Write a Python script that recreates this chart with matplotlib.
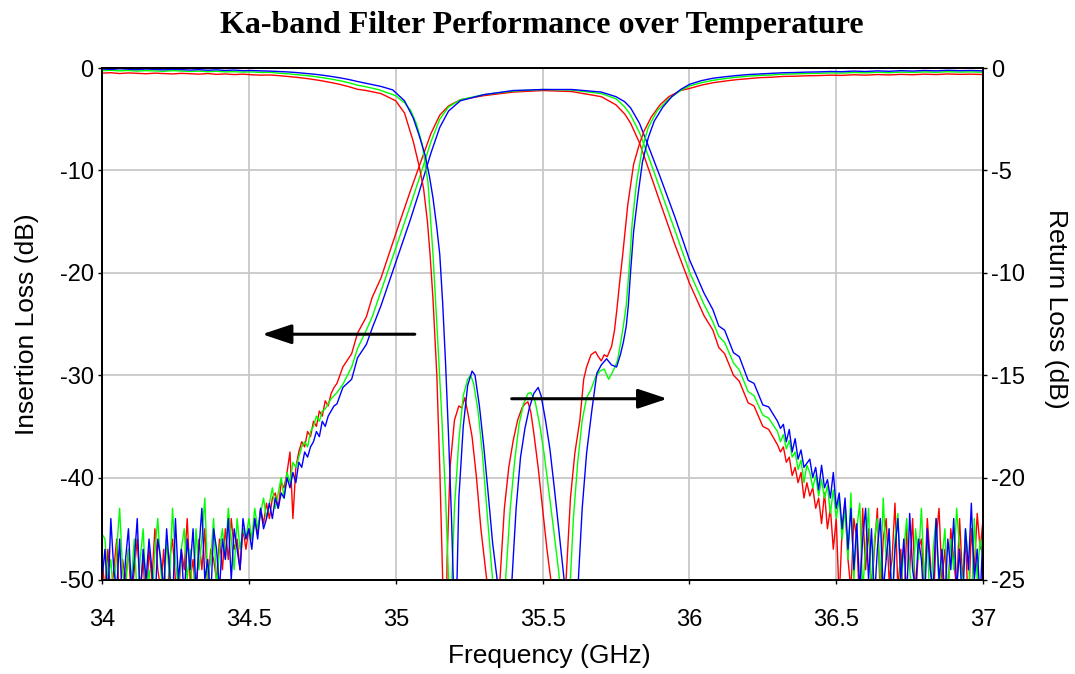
import numpy as np
import matplotlib
matplotlib.use("Agg")
import matplotlib.pyplot as plt

plt.rcParams['font.family'] = ['Liberation Sans', 'DejaVu Sans']
plt.rcParams['axes.unicode_minus'] = False

# ---------------- Insertion loss (left axis) ----------------
# noisy floor + lower skirt, 34.00 .. 34.79 GHz every 10 MHz
f_il_lo = np.round(np.arange(34.00, 34.795, 0.01), 3)
il_lo_red = [-48, -51, -47, -52, -49, -46, -53, -48, -50, -47,
             -52, -49, -46, -51, -48, -53, -47, -50, -45, -49,
             -51, -47, -53, -48, -46, -50, -52, -47, -49, -44,
             -50, -48, -52, -46, -49, -45, -51, -47, -48, -50,
             -46, -49, -45, -48, -44, -47, -46, -49, -45, -47,
             -45, -46, -44, -45.5, -43, -44.5, -42.5, -44, -42, -41.5,
             -43, -40.5, -41, -39.5, -37.5, -44, -39, -37.5, -36.5, -37,
             -35.5, -36, -34.5, -35, -33.5, -34, -32.5, -33, -31.8, -31.2]
il_lo_green = [-45.5, -46, -50, -48, -52, -47, -43, -49, -51, -47,
               -50, -46, -52, -48, -45, -51, -49, -53, -47, -44,
               -49, -52, -46, -50, -43, -48, -51, -47, -45, -50,
               -47, -53, -45, -49, -46, -42, -50, -48, -44, -51,
               -47, -45, -48, -43, -46, -49, -44, -47, -45, -46,
               -44, -46, -43, -45, -43.5, -42, -44, -42.5, -41, -43,
               -41.5, -40, -42, -39.5, -40.5, -38.5, -39, -38, -37, -36.5,
               -37, -35.5, -35, -34, -34.5, -33.5, -33.3, -32.8, -32.3, -32]
il_lo_blue = [-50, -47, -52, -44, -49, -51, -46, -53, -48, -45,
              -51, -48, -44, -52, -47, -50, -46, -49, -53, -46,
              -48, -51, -45, -49, -53, -44, -50, -47, -52, -46,
              -49, -45, -51, -47, -43, -50, -48, -52, -45, -47,
              -51, -46, -48, -44, -50, -45, -47, -49, -44, -46,
              -45, -47, -44, -46, -43, -45, -44, -42.5, -44, -42,
              -43, -41.5, -42, -40, -41, -39.5, -40.5, -38.5, -39, -37.5,
              -38, -37, -36.5, -35.5, -36, -34.5, -35, -34, -33.5, -33]

# passband region
f_il_mid = [34.80, 34.82, 34.85, 34.87, 34.90, 34.92, 34.95, 35.00, 35.05, 35.08,
            35.10, 35.12, 35.15, 35.18, 35.22, 35.30, 35.40, 35.50, 35.60, 35.70,
            35.75, 35.78, 35.80, 35.83, 35.86, 35.90, 35.95, 36.00, 36.05, 36.08,
            36.10, 36.12, 36.15, 36.17, 36.20, 36.22, 36.25, 36.27]
il_mid_red = [-30.8, -29.2, -27.9, -25.9, -24.3, -22.4, -20.5, -16.2, -12.0, -9.6,
              -8.0, -6.4, -4.6, -3.7, -3.1, -2.7, -2.35, -2.2, -2.3, -2.8,
              -3.6, -4.5, -5.4, -7.3, -9.8, -13.1, -17.2, -21.0, -24.2, -25.6,
              -27.3, -27.9, -30.0, -30.6, -32.7, -33.0, -35.0, -35.3]
il_mid_green = [-31.7, -30.9, -29.2, -27.4, -25.6, -24.3, -21.8, -17.6, -13.4, -10.8,
                -9.0, -7.2, -5.0, -3.8, -3.1, -2.6, -2.25, -2.1, -2.15, -2.5,
                -3.0, -3.8, -4.6, -6.3, -8.6, -11.8, -15.8, -19.9, -23.1, -24.8,
                -26.2, -26.8, -28.8, -29.5, -31.6, -32.0, -33.9, -34.2]
il_mid_blue = [-32.8, -31.2, -30.4, -28.3, -27.0, -25.4, -23.2, -19.0, -14.8, -12.1,
               -10.2, -8.3, -5.8, -4.2, -3.2, -2.6, -2.2, -2.1, -2.1, -2.35,
               -2.8, -3.3, -3.9, -5.4, -7.6, -10.6, -14.5, -18.7, -22.0, -23.6,
               -25.2, -25.6, -27.8, -28.2, -30.5, -30.8, -32.9, -33.1]

# upper skirt + noisy floor, 36.30 .. 37.00 GHz
f_il_hi = np.round(np.arange(36.30, 37.005, 0.01), 3)
il_hi_red = [-36.8, -37.5, -37, -38.5, -38, -39.8, -39, -40.5, -39.5, -42,
             -40.5, -41.8, -41, -43, -42, -44.5, -41.5, -45, -43, -47,
             -44, -52, -45, -42.5, -48, -51, -44, -46, -53, -43,
             -49, -45, -51, -47, -43, -52, -46, -44, -50, -48,
             -42.5, -51, -47, -53, -45, -49, -44, -52, -47, -46,
             -51, -44, -48, -53, -46, -43, -50, -47, -52, -45,
             -48, -51, -44, -50, -46, -53, -45, -49, -43.5, -47, -44]
il_hi_green = [-35.5, -36.5, -35.8, -37.2, -36.4, -38, -37.5, -39.2, -38.3, -40.5,
               -38.8, -39.5, -41, -39.8, -41.8, -40.2, -42, -40.8, -43.5, -41.2,
               -44, -42, -46, -43, -48, -41.5, -50, -45, -42.5, -51,
               -47, -43, -52, -46, -44, -50, -42, -48, -45, -53,
               -46, -43.5, -51, -47, -44, -49, -52, -45, -48, -43,
               -50, -46, -53, -47, -44, -51, -48, -45, -52, -46,
               -49, -43, -47, -51, -45, -48, -53, -44, -50, -46, -48]
il_hi_blue = [-34.5, -35.2, -34.8, -36.5, -35.3, -37.5, -36.2, -38.2, -37.3, -39,
              -38.6, -38.2, -40, -39, -41.2, -38.8, -41, -40.2, -42, -39.5,
              -43, -41.5, -45, -42, -47, -43, -49, -44.5, -51, -46,
              -43, -50, -45, -52, -47, -44, -51, -48, -45, -53,
              -47, -44, -50, -46, -52, -43.5, -49, -51, -46, -48,
              -53, -45, -49, -51, -44, -50, -47, -52, -46, -49,
              -44, -51, -47, -53, -45, -49, -42.5, -50, -47, -52, -45]

# ---------------- Return loss (right axis) ----------------
f_rl_lo = np.round(np.arange(34.00, 34.885, 0.03), 3)
rl_lo_red = [-0.25, -0.23, -0.27, -0.24, -0.26, -0.28, -0.25, -0.27, -0.29, -0.26,
             -0.28, -0.30, -0.27, -0.31, -0.29, -0.32, -0.30, -0.33, -0.35, -0.34,
             -0.37, -0.41, -0.45, -0.50, -0.56, -0.63, -0.71, -0.80, -0.91, -1.04]
rl_lo_green = [-0.13, -0.11, -0.14, -0.12, -0.15, -0.13, -0.14, -0.16, -0.13, -0.15,
               -0.17, -0.15, -0.18, -0.16, -0.19, -0.18, -0.20, -0.19, -0.22, -0.21,
               -0.25, -0.28, -0.32, -0.36, -0.41, -0.47, -0.54, -0.62, -0.72, -0.84]
rl_lo_blue = [-0.05, -0.07, -0.04, -0.06, -0.08, -0.05, -0.07, -0.09, -0.06, -0.08,
              -0.10, -0.08, -0.11, -0.09, -0.12, -0.10, -0.13, -0.12, -0.14, -0.15,
              -0.17, -0.19, -0.22, -0.26, -0.30, -0.35, -0.41, -0.48, -0.56, -0.66]

f_rl_red = [34.90, 34.95, 35.00, 35.03, 35.06, 35.08, 35.095, 35.108, 35.117, 35.127,
            35.14, 35.15, 35.16, 35.167, 35.175, 35.185, 35.20, 35.215, 35.225, 35.235,
            35.245, 35.26, 35.275, 35.29, 35.31, 35.333, 35.355, 35.37, 35.385, 35.40,
            35.415, 35.43, 35.44, 35.45, 35.46, 35.47, 35.485, 35.50, 35.515, 35.53,
            35.555, 35.58, 35.595, 35.61, 35.627, 35.64, 35.65, 35.665, 35.68, 35.69,
            35.70, 35.71, 35.72, 35.735, 35.745, 35.753, 35.763, 35.773, 35.79, 35.81,
            35.83, 35.845, 35.87, 35.90, 35.93, 35.97]
rl_red = [-1.1, -1.25, -1.6, -2.2, -3.6, -4.8, -5.9, -7.5, -9.1, -11.3,
          -15.0, -19.5, -25.0, -33.0, -24.0, -19.5, -17.2, -16.5, -16.6, -16.1,
          -16.8, -18.0, -20.0, -22.5, -25.0, -33.0, -25.0, -21.5, -19.5, -18.2,
          -17.2, -16.6, -16.4, -16.3, -16.8, -17.8, -19.5, -21.5, -23.5, -25.2,
          -33.0, -25.0, -21.0, -18.8, -17.2, -15.2, -14.6, -14.0, -13.85, -14.1,
          -14.3, -14.0, -14.1, -13.6, -12.8, -11.8, -10.4, -9.1, -6.7, -4.7,
          -3.7, -3.1, -2.4, -1.8, -1.4, -1.1]

f_rl_green = [34.90, 34.94, 34.97, 35.00, 35.03, 35.05, 35.07, 35.09, 35.11, 35.127,
              35.14, 35.155, 35.17, 35.18, 35.185, 35.19, 35.20, 35.215, 35.23, 35.245,
              35.255, 35.265, 35.28, 35.295, 35.31, 35.33, 35.352, 35.375, 35.39, 35.405,
              35.42, 35.435, 35.45, 35.46, 35.475, 35.49, 35.505, 35.52, 35.54, 35.555,
              35.57, 35.582, 35.593, 35.605, 35.62, 35.635, 35.65, 35.665, 35.68, 35.695,
              35.71, 35.725, 35.74, 35.755, 35.765, 35.775, 35.785, 35.795, 35.805, 35.82,
              35.84, 35.86, 35.89, 35.93, 35.97]
rl_green = [-0.92, -1.05, -1.2, -1.35, -1.7, -2.05, -2.7, -3.7, -5.6, -9.1,
            -12.5, -16.5, -21.0, -25.0, -33.0, -25.5, -21.5, -18.2, -16.0, -15.2,
            -15.0, -15.4, -16.7, -18.8, -21.5, -25.0, -33.0, -24.8, -21.5, -19.2,
            -17.4, -16.4, -15.9, -15.85, -16.3, -17.4, -18.8, -20.5, -22.8, -24.6,
            -27.0, -33.0, -25.5, -22.0, -19.2, -17.2, -16.1, -15.7, -15.1, -14.8,
            -14.7, -15.2, -14.8, -14.3, -13.5, -12.6, -11.6, -9.8, -7.6, -5.6,
            -3.9, -2.9, -2.1, -1.5, -1.1]

f_rl_blue = [34.90, 34.95, 34.99, 35.03, 35.06, 35.08, 35.10, 35.115, 35.127, 35.14,
             35.15, 35.16, 35.17, 35.18, 35.19, 35.197, 35.202, 35.208, 35.215, 35.23,
             35.245, 35.26, 35.27, 35.285, 35.30, 35.315, 35.33, 35.35, 35.372, 35.395,
             35.41, 35.425, 35.44, 35.455, 35.47, 35.485, 35.495, 35.51, 35.525, 35.54,
             35.555, 35.575, 35.598, 35.62, 35.635, 35.65, 35.668, 35.685, 35.70, 35.718,
             35.735, 35.752, 35.765, 35.775, 35.785, 35.792, 35.80, 35.81, 35.825, 35.84,
             35.86, 35.88, 35.91, 35.94, 35.97]
rl_blue = [-0.75, -0.9, -1.07, -1.6, -2.45, -3.3, -4.25, -5.3, -6.35, -7.8,
           -9.1, -11.5, -14.5, -18.0, -22.0, -25.5, -33.0, -25.5, -21.0, -17.5,
           -15.5, -14.8, -15.0, -16.5, -18.5, -20.8, -23.2, -25.5, -33.0, -25.2,
           -21.5, -19.0, -17.6, -16.6, -15.9, -15.6, -16.0, -17.2, -18.6, -20.5,
           -22.5, -25.2, -33.0, -25.5, -21.5, -18.8, -16.7, -14.9, -14.5, -14.2,
           -14.5, -14.6, -14.0, -13.4, -12.6, -11.6, -9.9, -8.0, -6.2, -4.6,
           -3.4, -2.6, -1.9, -1.4, -1.05]

f_rl_hi = np.round(np.arange(36.00, 37.005, 0.04), 3)
rl_hi_red = [-1.0, -0.84, -0.72, -0.64, -0.57, -0.52, -0.47, -0.45, -0.41, -0.40,
             -0.38, -0.37, -0.35, -0.36, -0.33, -0.35, -0.32, -0.34, -0.31, -0.33,
             -0.30, -0.32, -0.29, -0.31, -0.30, -0.32]
rl_hi_green = [-0.88, -0.72, -0.60, -0.52, -0.45, -0.40, -0.36, -0.34, -0.30, -0.29,
               -0.27, -0.26, -0.24, -0.25, -0.22, -0.24, -0.21, -0.23, -0.20, -0.22,
               -0.19, -0.21, -0.18, -0.20, -0.19, -0.21]
rl_hi_blue = [-0.80, -0.62, -0.50, -0.43, -0.37, -0.32, -0.29, -0.26, -0.23, -0.22,
              -0.20, -0.19, -0.17, -0.18, -0.15, -0.17, -0.14, -0.16, -0.13, -0.15,
              -0.12, -0.14, -0.11, -0.13, -0.12, -0.14]

colors = ['#ff0000', '#00ff00', '#0000ff']

il_sets = [(il_lo_red, il_mid_red, il_hi_red),
           (il_lo_green, il_mid_green, il_hi_green),
           (il_lo_blue, il_mid_blue, il_hi_blue)]
rl_sets = [(rl_lo_red, f_rl_red, rl_red, rl_hi_red),
           (rl_lo_green, f_rl_green, rl_green, rl_hi_green),
           (rl_lo_blue, f_rl_blue, rl_blue, rl_hi_blue)]

fig = plt.figure(figsize=(10.75, 6.74), dpi=100)
ax = fig.add_axes([0.0949, 0.1395, 0.8196, 0.7596])
ax2 = ax.twinx()

for (lo, mid, hi), c in zip(il_sets, colors):
    f = np.concatenate([f_il_lo, f_il_mid, f_il_hi])
    y = np.concatenate([lo, mid, hi])
    ax.plot(f, y, color=c, lw=1.0)

for (lo, fb, band, hi), c in zip(rl_sets, colors):
    f = np.concatenate([f_rl_lo, fb, f_rl_hi])
    y = np.concatenate([lo, band, hi])
    ax2.plot(f, y, color=c, lw=1.0)

ax.set_xlim(34, 37)
ax.set_ylim(-50, 0)
ax2.set_ylim(-25, 0)
ax.set_xticks([34, 34.5, 35, 35.5, 36, 36.5, 37])
ax.set_xticklabels(['34', '34.5', '35', '35.5', '36', '36.5', '37'])
ax.set_yticks(range(-50, 1, 10))
ax2.set_yticks(range(-25, 1, 5))
ax.grid(True, color='#c8c8c8', lw=1.3)
ax.set_axisbelow(True)

for a in (ax, ax2):
    a.tick_params(labelsize=17, length=3, width=1, direction='out', pad=3)
    for s in a.spines.values():
        s.set_color('black')
        s.set_linewidth(1.3)
ax.tick_params(axis='x', pad=18)

ax.set_xlabel('Frequency (GHz)', fontsize=19, labelpad=9)
ax.xaxis.label.set_x(0.508)
ax.set_ylabel('Insertion Loss (dB)', fontsize=19, labelpad=15)
ax2.set_ylabel('Return Loss (dB)', fontsize=19, rotation=-90, labelpad=31)
ax2.yaxis.label.set_y(0.53)

fig.suptitle('Ka-band Filter Performance over Temperature', x=0.504, y=0.983,
             fontsize=23, fontweight='bold', family='Liberation Serif')

arrow = dict(arrowstyle='-|>,head_length=0.9,head_width=0.3', color='black',
             lw=2.2, mutation_scale=20, shrinkA=0, shrinkB=0)
ax2.annotate('', xy=(34.545, -13.0), xytext=(35.065, -13.0), arrowprops=arrow)
ax2.annotate('', xy=(35.925, -16.15), xytext=(35.395, -16.15), arrowprops=arrow)

fig.savefig('out.png', dpi=100)
